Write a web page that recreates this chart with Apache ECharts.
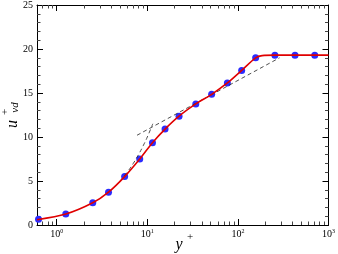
<!DOCTYPE html>
<html>
<head>
<meta charset="utf-8">
<script src="https://cdn.jsdelivr.net/npm/echarts@6/dist/echarts.min.js"></script>
<style>
  html, body { margin: 0; padding: 0; background: #fff; }
  #chart { width: 338px; height: 254px; }
</style>
</head>
<body>
<div id="chart"></div>
<script>
// y+ axis ticks (log)
var majorTicks = [1, 10, 100, 1000];
var minorTicks = [0.7, 0.8, 0.9, 2, 3, 4, 5, 6, 7, 8, 9,
    20, 30, 40, 50, 60, 70, 80, 90, 200, 300, 400, 500, 600, 700, 800, 900];

// blue markers
var dotX = [0.63, 1.26, 2.5, 3.73, 5.62, 8.25, 11.4, 15.7, 22.4, 34.3, 51.3, 76.5, 110, 157, 256, 427, 705];
var dotY = [0.64, 1.24, 2.52, 3.73, 5.5, 7.5, 9.35, 10.9, 12.37, 13.76, 14.85, 16.14, 17.57, 19.0, 19.3, 19.3, 19.3];

// red profile
var lineX = [0.606, 1.26, 2.5, 3.73, 5.62, 8.25, 11.4, 15.7, 22.4, 34.3, 51.3, 76.5, 110, 157, 185, 256, 1000];
var lineY = [0.6, 1.24, 2.52, 3.73, 5.5, 7.5, 9.35, 10.9, 12.37, 13.76, 14.85, 16.14, 17.57, 19.0, 19.25, 19.3, 19.3];

// dashed reference lines (u+ = y+ and log law)
var viscX = [5, 6, 7, 8, 9, 10, 11.5];
var viscY = [5, 6, 7, 8, 9, 10, 11.5];
var logLawX = [7.7, 288];
var logLawY = [10.2, 19.0];

function pairs(xs, ys) {
    return xs.map(function (x, i) { return [x, ys[i]]; });
}

var serif = '"Liberation Serif", "DejaVu Serif", serif';
var black = '#000';

function xAxisOf(pos, ticks, len, showLine, showLabel) {
    return {
        type: 'log',
        logBase: 10,
        position: pos,
        min: 0.606,
        max: 1000,
        gridIndex: 0,
        axisLine: { show: showLine, lineStyle: { color: black, width: 1 } },
        axisTick: { show: true, inside: true, length: len, customValues: ticks,
            lineStyle: { color: len > 4 ? black : '#444', width: 1 } },
        axisLabel: {
            show: showLabel,
            customValues: majorTicks,
            margin: 3,
            formatter: function (v) {
                return '{b|10}{s|' + Math.round(Math.log10(v)) + '}';
            },
            rich: {
                b: { fontFamily: serif, fontSize: 10, color: black, lineHeight: 12 },
                s: { fontFamily: serif, fontSize: 6, color: black, verticalAlign: 'top', lineHeight: 7 }
            }
        },
        splitLine: { show: false },
        minorTick: { show: false },
        minorSplitLine: { show: false }
    };
}

function yAxisOf(pos, showLabel) {
    return {
        type: 'value',
        position: pos,
        min: 0,
        max: 25,
        interval: 5,
        axisLine: { show: true, lineStyle: { color: black, width: 1 } },
        axisTick: { show: true, inside: true, length: 6, lineStyle: { color: black } },
        minorTick: { show: true, splitNumber: 5, length: 3.5, lineStyle: { color: '#444' } },
        axisLabel: { show: showLabel, margin: 4, fontFamily: serif, fontSize: 10, color: black },
        splitLine: { show: false }
    };
}

var myChart = echarts.init(document.getElementById('chart'), null, { renderer: 'canvas' });

var option = {
    animation: false,
    backgroundColor: '#fff',
    grid: { left: 37, right: 6, top: 4, bottom: 29 },
    xAxis: [
        xAxisOf('bottom', majorTicks, 6, true, true),
        xAxisOf('bottom', minorTicks, 3.5, false, false),
        xAxisOf('top', majorTicks, 6, true, false),
        xAxisOf('top', minorTicks, 3.5, false, false)
    ],
    yAxis: [
        yAxisOf('left', true),
        yAxisOf('right', false)
    ],
    graphic: [
        {
            type: 'group',
            x: 13, y: 124,
            rotation: Math.PI / 2,
            children: [
                { type: 'text', x: 0, y: 0, style: { text: 'u', font: 'italic 16px ' + serif, fill: black, align: 'center', verticalAlign: 'middle' } },
                { type: 'text', x: 12, y: -8, style: { text: '+', font: '11px ' + serif, fill: black, align: 'center', verticalAlign: 'middle' } },
                { type: 'text', x: 16.5, y: 2, style: { text: 'vd', font: 'italic 11px ' + serif, fill: black, align: 'center', verticalAlign: 'middle' } }
            ]
        },
        { type: 'text', x: 179, y: 245, style: { text: 'y', font: 'italic 16px ' + serif, fill: black, align: 'center', verticalAlign: 'middle' } },
        { type: 'text', x: 190, y: 237, style: { text: '+', font: '11px ' + serif, fill: black, align: 'center', verticalAlign: 'middle' } }
    ],
    series: [
        {
            name: 'viscous', type: 'line', xAxisIndex: 0, yAxisIndex: 0,
            data: pairs(viscX, viscY), symbol: 'none', smooth: true,
            lineStyle: { color: '#222', width: 0.8, type: [4, 3] }
        },
        {
            name: 'log law', type: 'line', xAxisIndex: 0, yAxisIndex: 0,
            data: pairs(logLawX, logLawY), symbol: 'none',
            lineStyle: { color: '#222', width: 0.8, type: [4, 3] }
        },
        {
            name: 'profile', type: 'line', xAxisIndex: 0, yAxisIndex: 0,
            data: pairs(lineX, lineY), symbol: 'none', smooth: 0.3,
            lineStyle: { color: '#e00000', width: 1.6 }
        },
        {
            name: 'points', type: 'scatter', xAxisIndex: 0, yAxisIndex: 0,
            data: pairs(dotX, dotY), symbol: 'circle', symbolSize: 7,
            itemStyle: { color: '#2b2bff', opacity: 1 }
        }
    ]
};

myChart.setOption(option);
</script>
</body>
</html>
